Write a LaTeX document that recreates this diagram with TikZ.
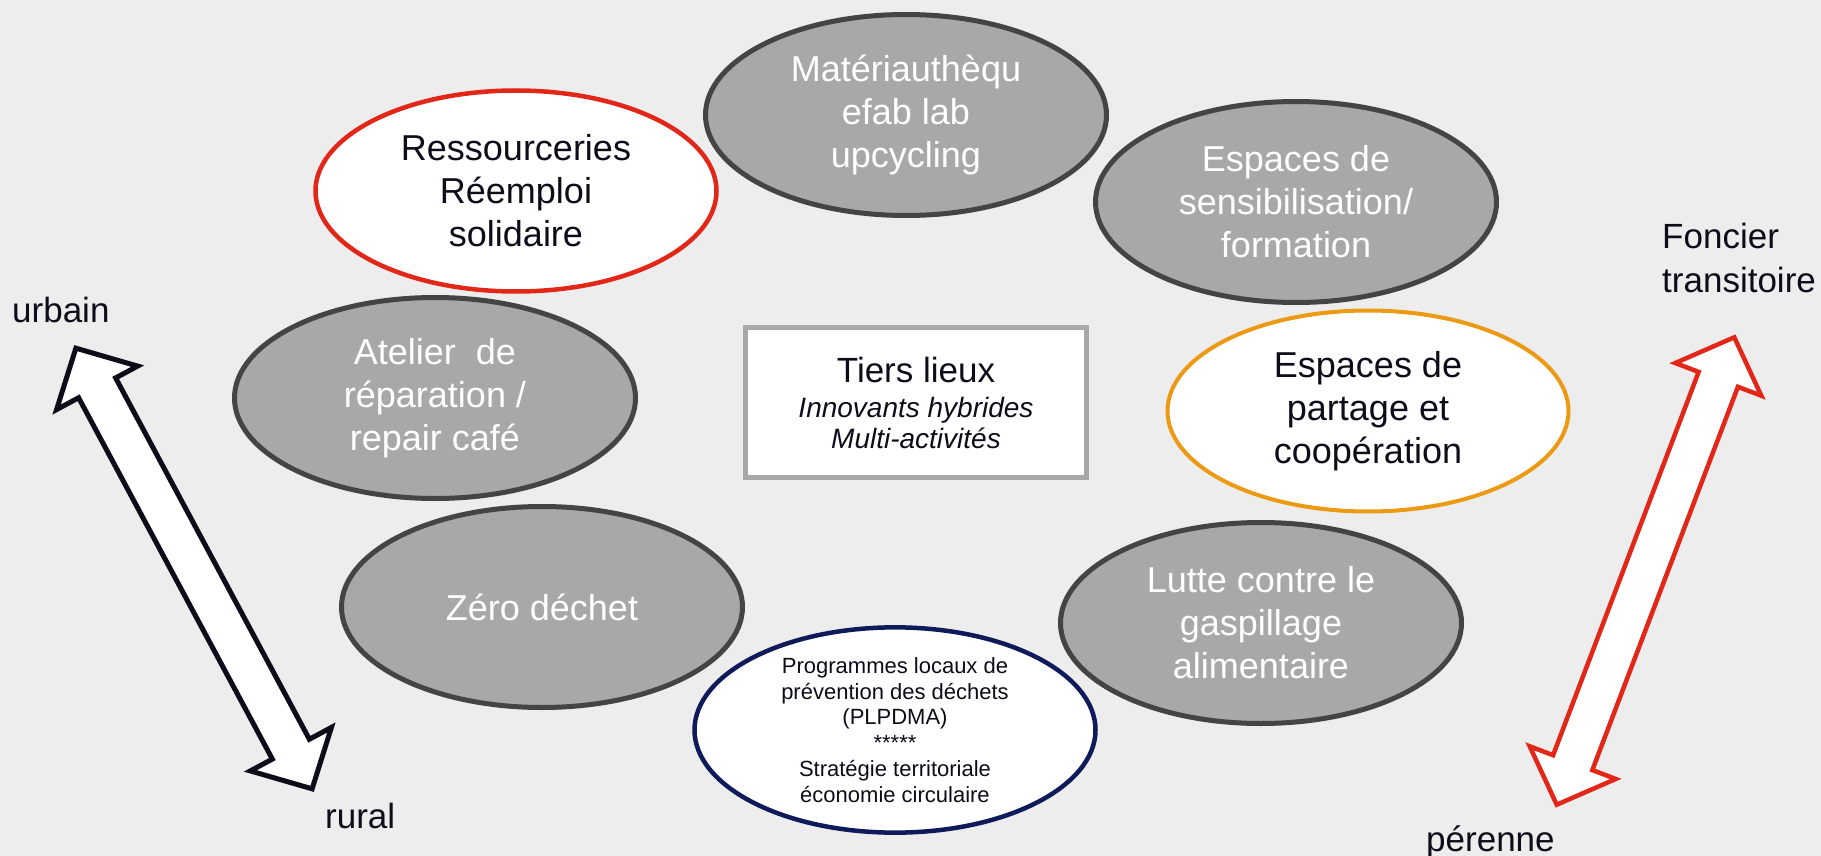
\documentclass[tikz,border=0pt]{standalone}
\usepackage{fontspec}
\setmainfont{Liberation Sans}
\usepackage{tikz}
\usepackage{xcolor}
\usetikzlibrary{shapes.geometric}

\definecolor{bgcol}{RGB}{237,237,237}
\definecolor{ovalgray}{RGB}{168,168,168}
\definecolor{ovalline}{RGB}{68,68,68}
\definecolor{redline}{RGB}{226,38,24}
\definecolor{orangeline}{RGB}{236,153,20}
\definecolor{navyline}{RGB}{14,26,90}
\definecolor{boxline}{RGB}{168,168,168}
\definecolor{inktext}{RGB}{13,13,26}

\begin{document}
\begin{tikzpicture}[x=1pt,y=-1pt,
  oval/.style={ellipse, minimum width=401pt, minimum height=201pt, inner sep=0pt,
    line width=5pt, align=center, font=\fontsize{36}{43}\selectfont},
  grayoval/.style={oval, draw=ovalline, fill=ovalgray, text=white},
  whiteoval/.style={oval, fill=white, text=inktext, line width=4.5pt},
  sidelabel/.style={anchor=base west, inner sep=0pt, text=inktext, align=left,
    font=\fontsize{35}{44}\selectfont},
  bigarrow/.style={fill=white, line width=5pt, line join=miter}]

% background and page size
\fill[bgcol] (0,0) rectangle (1821,856);
\useasboundingbox (0,0) rectangle (1821,856);

% left double arrow (urbain / rural)
\begin{scope}[shift={(194,568.5)}, rotate=-61.8]
\filldraw[bigarrow, draw=inktext] (-250,0) -- (-205,46) -- (-205,21) -- (205,21) -- (205,46)
  -- (250,0) -- (205,-46) -- (205,-21) -- (-205,-21) -- (-205,-46) -- cycle;
\end{scope}

% right double arrow (foncier transitoire / perenne)
\begin{scope}[shift={(1645.5,571)}, rotate=69.2]
\filldraw[bigarrow, draw=redline, line width=4.5pt] (-250,0) -- (-205,46) -- (-205,21) -- (205,21) -- (205,46)
  -- (250,0) -- (205,-46) -- (205,-21) -- (-205,-21) -- (-205,-46) -- cycle;
\end{scope}

% activity ovals
\node[grayoval] (materio) at (906,115) {Matériauthèqu\\efab lab\\upcycling};
\node[whiteoval, draw=redline] (ressource) at (516,191) {Ressourceries\\Réemploi\\solidaire};
\node[grayoval] (sensib) at (1296,202) {Espaces de\\sensibilisation/\\formation};
\node[grayoval] (atelier) at (435,398) {Atelier~ de\\réparation /\\repair café};
\node[whiteoval, draw=orangeline, line width=4pt] (partage) at (1368,411) {Espaces de\\partage et\\coopération};
\node[grayoval] (zero) at (542,607) {Zéro déchet};
\node[grayoval] (lutte) at (1261,623) {Lutte contre le\\gaspillage\\alimentaire};
\node[whiteoval, draw=navyline, font=\fontsize{22}{25.8}\selectfont] (plpdma) at (895,730)
  {Programmes locaux de\\prévention des déchets\\(PLPDMA)\\*****\\Stratégie territoriale\\économie circulaire};

% central box
\node[draw=boxline, fill=white, line width=5pt, minimum width=341pt, minimum height=150pt,
  align=center, text=inktext, font=\fontsize{28}{31}\selectfont\itshape] (tiers) at (916,402.5)
  {{\fontsize{35}{35}\selectfont\upshape Tiers lieux}\\[4pt]Innovants hybrides\\Multi-activités};

% axis labels
\node[sidelabel] (urbain) at (12,322) {urbain};
\node[sidelabel] (rural) at (325,828) {rural};
\node[sidelabel] (foncier) at (1662,292) {Foncier\\transitoire};
\node[sidelabel] (perenne) at (1426,851) {pérenne};

\end{tikzpicture}
\end{document}
